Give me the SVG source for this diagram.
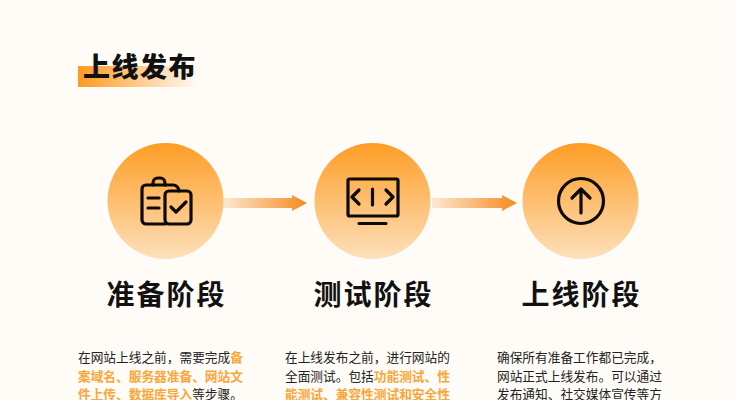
<svg xmlns="http://www.w3.org/2000/svg" width="735" height="400" viewBox="0 0 735 400">
<style>
text{font-family:"Noto Sans CJK SC","Liberation Sans",sans-serif}
.h{font-size:28px;font-weight:700;fill:#111;letter-spacing:2px}
.b{font-size:12.7px;fill:#222;font-weight:400}
.o{fill:#f9a63a;font-weight:700}
.i{fill:none;stroke:#0d0a06;stroke-width:3.2;stroke-linecap:round;stroke-linejoin:round}
</style>
<defs>
<linearGradient id="c" x1="0" y1="0" x2="0" y2="1"><stop offset="0" stop-color="#fe9d25"/><stop offset="1" stop-color="#fde0bb"/></linearGradient>
<linearGradient id="t" x1="0" y1="0" x2="1" y2="0"><stop offset="0" stop-color="#fd9a20"/><stop offset="1" stop-color="#fffbf5"/></linearGradient>
<linearGradient id="a" x1="0" y1="0" x2="1" y2="0"><stop offset="0" stop-color="#fce8d2"/><stop offset="1" stop-color="#f78a1e"/></linearGradient>
</defs>
<rect width="735" height="400" fill="#fffcf7"/>
<g id="title">
<rect x="78" y="66" width="120" height="21" fill="url(#t)"/>
<text x="83" y="77" font-size="27" font-weight="900" fill="#111" letter-spacing="1.5">上线发布</text>
</g>
<g id="connectors">
<polygon points="223,198 292,198 292,195 307,203 292,211 292,208 223,208" fill="url(#a)"/>
<polygon points="432,198 502,198 502,195 517,203 502,211 502,208 432,208" fill="url(#a)"/>
</g>
<g id="node1">
<circle cx="165.500" cy="201" r="58" fill="url(#c)"/>
<g class="i">
<path d="M165,224H146a4,4 0 0 1-4-4V189a4,4 0 0 1 4-4H173a6,6 0 0 1 6,6"/>
<path d="M153,185v-2a5,5 0 0 1 5-5h2a5,5 0 0 1 5,5v2"/>
<path d="M148,198h11M148,208h11"/>
<rect x="165" y="191" width="26" height="33" rx="4"/>
<path d="M171,207l5,5 10-10"/>
</g>
<text class="h" x="166.500" y="305" text-anchor="middle">准备阶段</text>
<text class="b"><tspan x="78" y="362">在网站上线之前，需要完成<tspan class="o">备</tspan></tspan><tspan x="78" y="381" class="o">案域名、服务器准备、网站文</tspan><tspan x="78" y="399"><tspan class="o">件上传、数据库导入</tspan>等步骤。</tspan></text>
</g>
<g id="node2">
<circle cx="372.500" cy="201" r="58" fill="url(#c)"/>
<g class="i">
<rect x="348" y="179" width="50" height="37" rx="1.500"/>
<path d="M359,190l-7,7 7,7M386,190l7,7-7,7M372.500,189v16M359,223.500h27"/>
</g>
<text class="h" x="373.500" y="305" text-anchor="middle">测试阶段</text>
<text class="b"><tspan x="285" y="362">在上线发布之前，进行网站的</tspan><tspan x="285" y="381">全面测试。包括<tspan class="o">功能测试、性</tspan></tspan><tspan x="285" y="399" class="o">能测试、兼容性测试和安全性</tspan></text>
</g>
<g id="node3">
<circle cx="580.500" cy="201" r="58" fill="url(#c)"/>
<g class="i">
<circle cx="581" cy="201" r="22.500"/>
<path d="M581,213V190M572,198l9-9 9,9"/>
</g>
<text class="h" x="581.500" y="305" text-anchor="middle">上线阶段</text>
<text class="b"><tspan x="497" y="362">确保所有准备工作都已完成，</tspan><tspan x="497" y="381">网站正式上线发布。可以通过</tspan><tspan x="497" y="399">发布通知、社交媒体宣传等方</tspan></text>
</g>
</svg>
